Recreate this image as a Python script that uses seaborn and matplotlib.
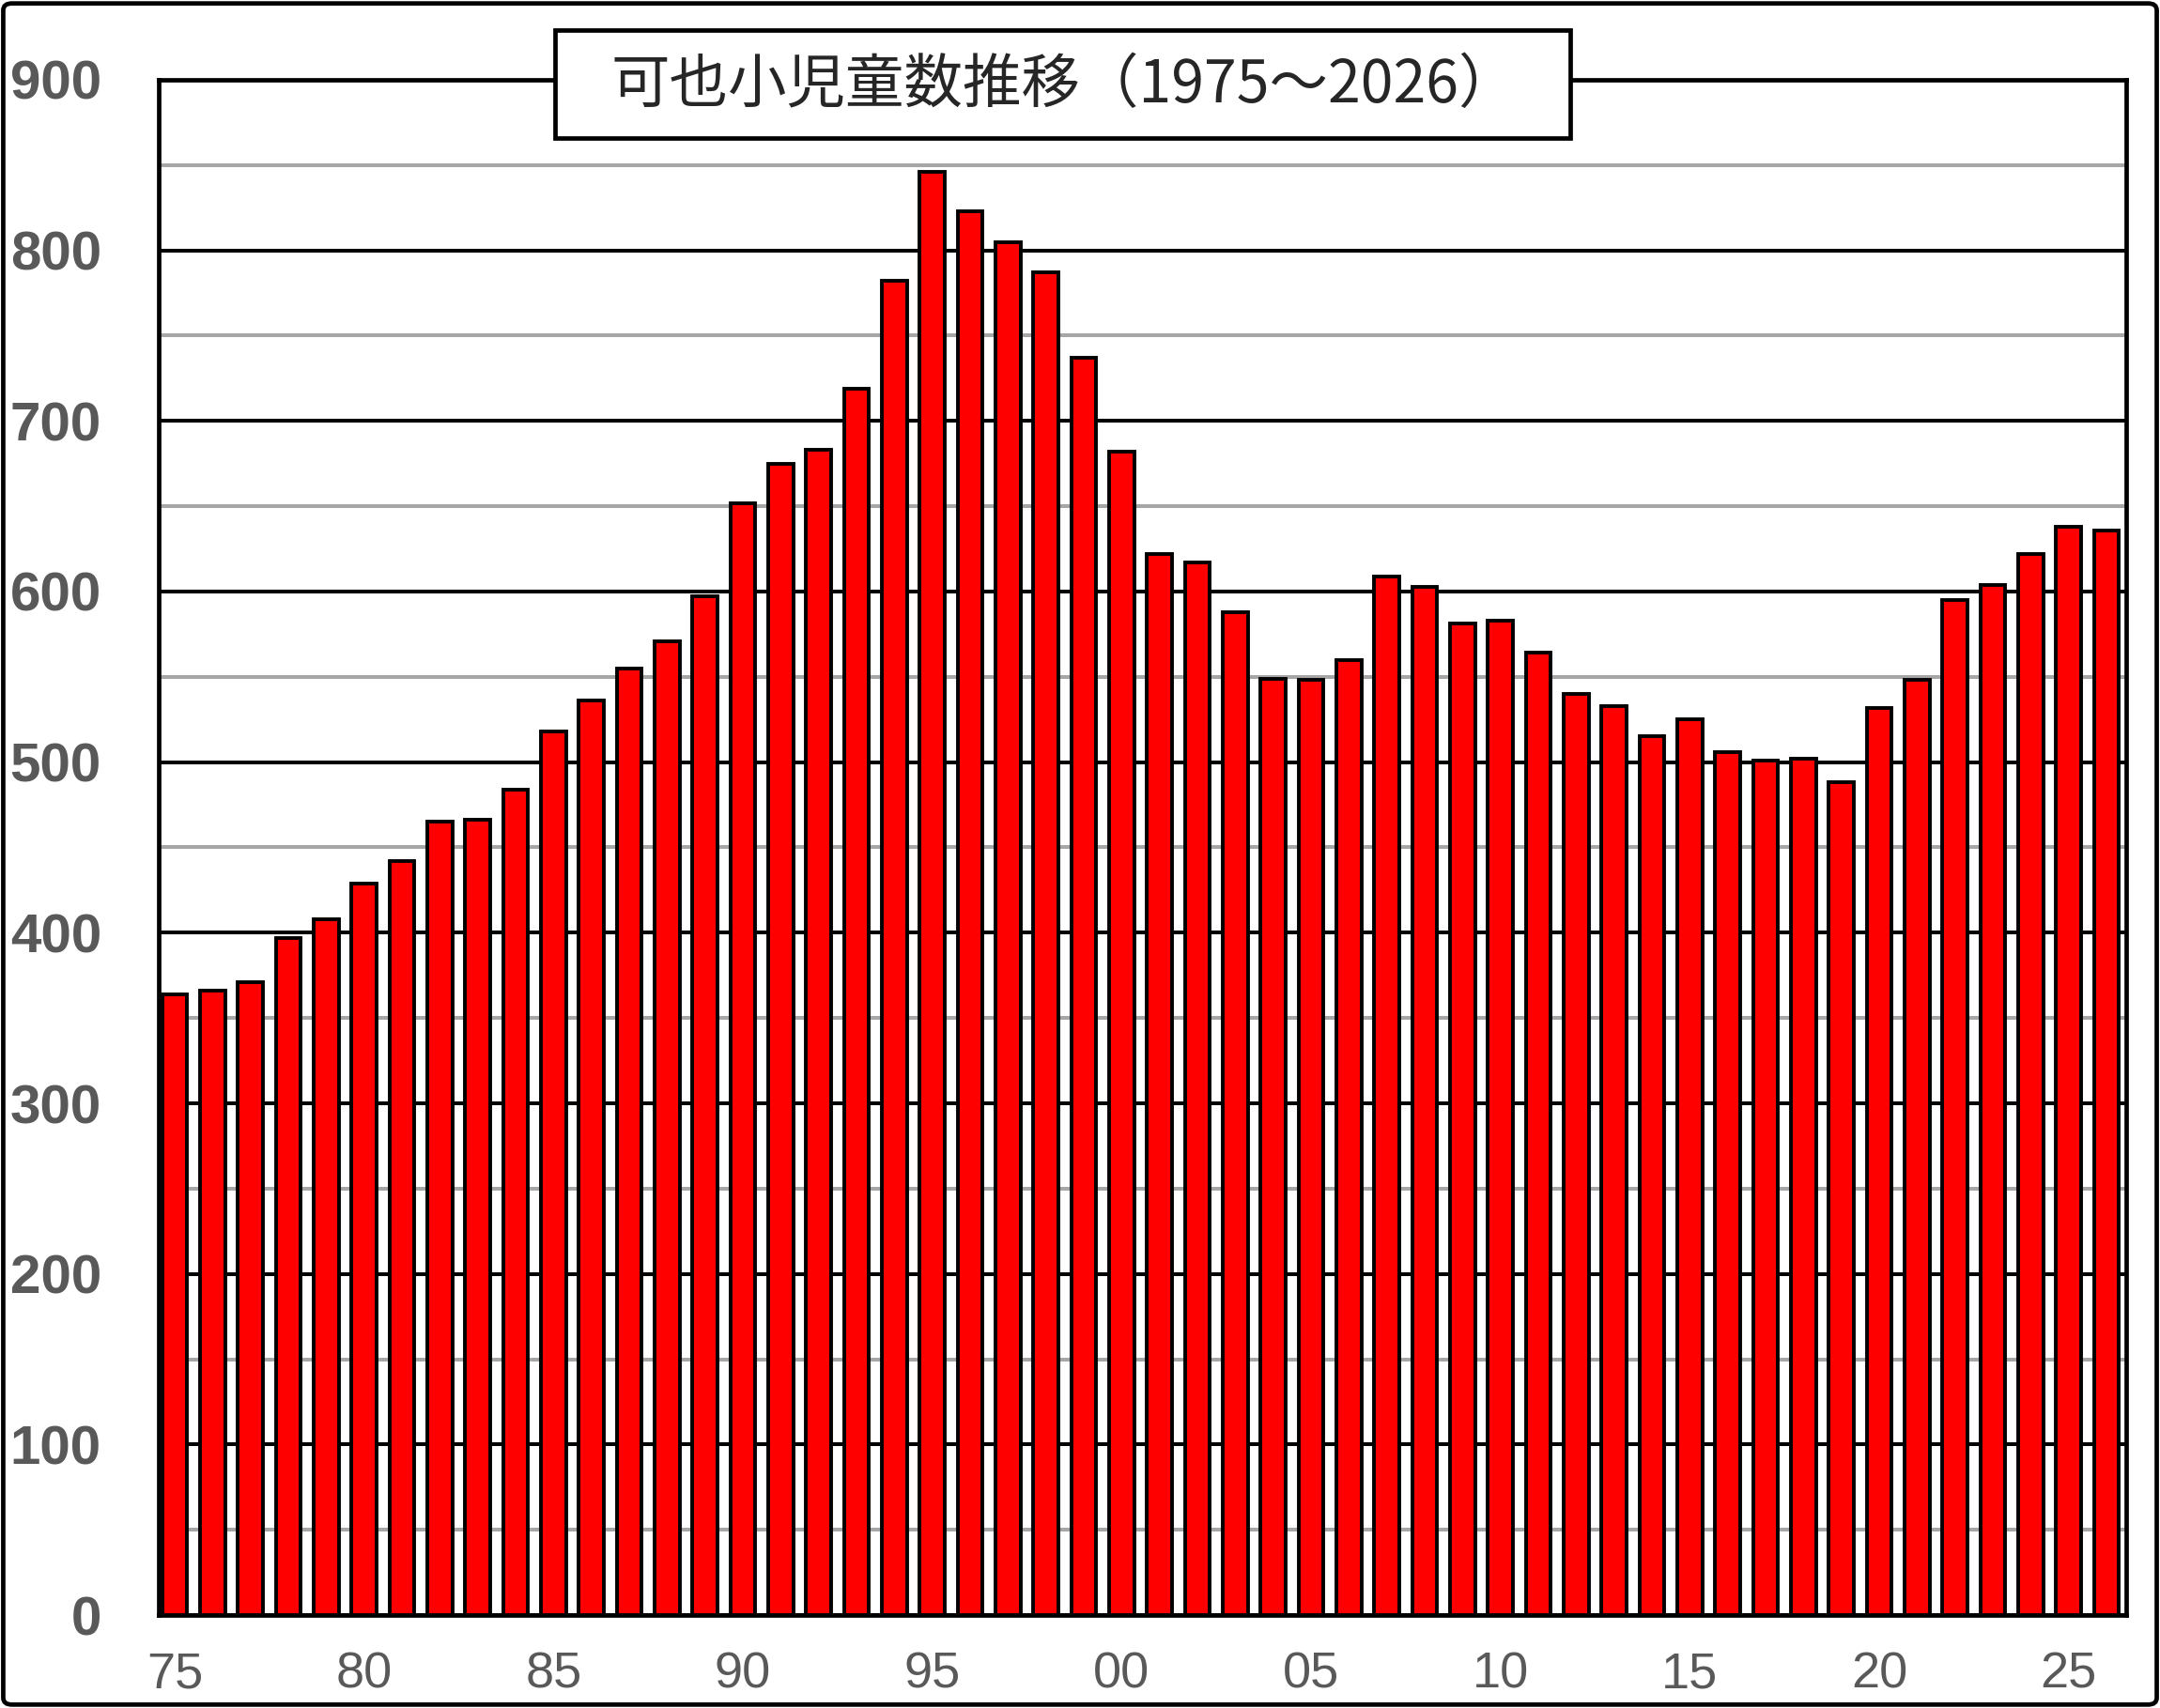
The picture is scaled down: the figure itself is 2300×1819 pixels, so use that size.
'''
Kaya elementary school pupils, 1975-2026
'''
import matplotlib
matplotlib.use('Agg')
import matplotlib.pyplot as plt
from matplotlib.patches import Rectangle, FancyBboxPatch
from matplotlib.ticker import MultipleLocator
import seaborn as sns

years = [1975, 1976, 1977, 1978, 1979, 1980, 1981, 1982, 1983, 1984,
         1985, 1986, 1987, 1988, 1989, 1990, 1991, 1992, 1993, 1994,
         1995, 1996, 1997, 1998, 1999, 2000, 2001, 2002, 2003, 2004,
         2005, 2006, 2007, 2008, 2009, 2010, 2011, 2012, 2013, 2014,
         2015, 2016, 2017, 2018, 2019, 2020, 2021, 2022, 2023, 2024,
         2025, 2026]
pupils = [364, 366, 371, 397, 408, 429, 442, 465, 466, 484,
          518, 536, 555, 571, 597, 652, 675, 683, 719, 782,
          846, 823, 805, 787, 737, 682, 622, 617, 588, 549,
          548, 560, 609, 603, 581, 583, 564, 540, 533, 515,
          525, 506, 501, 502, 488, 532, 548, 595, 604, 622,
          638, 636]
tick_pos = [0, 5, 10, 15, 20, 25, 30, 35, 40, 45, 50]
tick_labels = ['75', '80', '85', '90', '95', '00', '05', '10', '15', '20', '25']
title = '可也小児童数推移（1975～2026）'

sns.set_style('white')
plt.rcParams['font.family'] = ['Liberation Sans', 'DejaVu Sans']

label_gray = '#595959'

fig = plt.figure(figsize=(23, 18.19), dpi=100)
ax = fig.add_axes([0.0735, 0.0544, 0.9108, 0.8989])

sns.barplot(x=years, y=pupils, color='#FF0000', saturation=1, width=0.66,
            edgecolor='black', linewidth=2.8, ax=ax, zorder=3)

ax.set_xlim(-0.42, 51.52)
ax.set_ylim(0, 900)
ax.yaxis.set_major_locator(MultipleLocator(100))
ax.yaxis.set_minor_locator(MultipleLocator(50))
ax.set_axisbelow(True)
ax.yaxis.grid(True, which='major', color='black', lw=2.9)
ax.yaxis.grid(True, which='minor', color='#A6A6A6', lw=2.9)
ax.xaxis.grid(False)

ax.set_xticks(tick_pos)
ax.set_xticklabels(tick_labels)
ax.tick_params(axis='y', which='both', length=0, pad=44, labelsize=42,
               labelcolor=label_gray)
ax.tick_params(axis='x', length=0, pad=28, labelcolor=label_gray)
for lab in ax.get_yticklabels():
    lab.set_fontweight('bold')
for lab in ax.get_xticklabels():
    lab.set_family(['Liberation Sans Narrow', 'Liberation Sans'])
    lab.set_fontsize(39)

for s in ax.spines.values():
    s.set_visible(True)
    s.set_color('black')
    s.set_linewidth(3.4)

# title box sitting on the top spine
fig.add_artist(Rectangle((0.257, 0.9192), 0.470, 0.0632, transform=fig.transFigure,
                         facecolor='white', edgecolor='black', lw=3.4, zorder=5))
fig.text(0.4925, 0.950, title, ha='center', va='center', fontsize=45,
         family=['Noto Sans CJK JP', 'DejaVu Sans'], zorder=6)

# outer frame
fig.add_artist(FancyBboxPatch((0.0015, 0.002), 0.997, 0.996,
                              boxstyle='round,pad=0,rounding_size=0.004',
                              transform=fig.transFigure, fill=False,
                              edgecolor='black', lw=3.4, zorder=10))

fig.savefig('out.png', dpi=100)
